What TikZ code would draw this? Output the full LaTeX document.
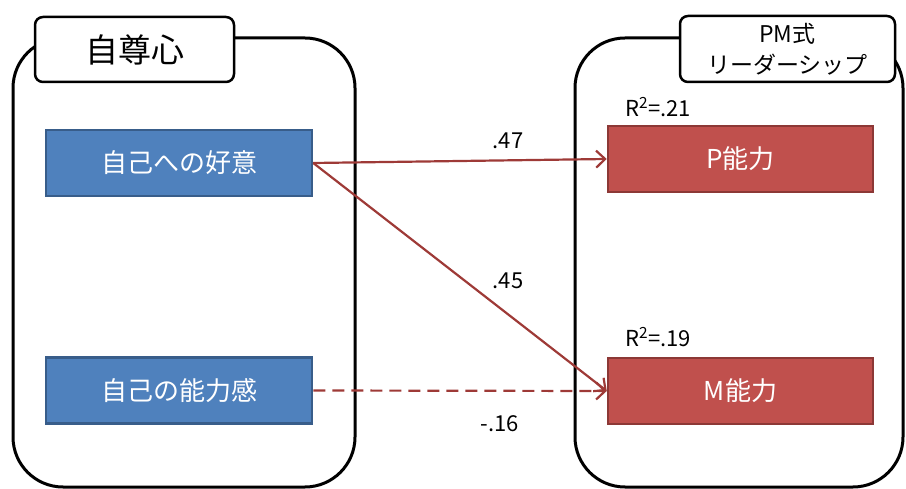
\documentclass[tikz,border=0pt]{standalone}
\usepackage{fontspec}
\setmainfont{Noto Sans CJK JP}
\usetikzlibrary{arrows.meta}
\definecolor{bluefill}{RGB}{79,129,189}
\definecolor{blueedge}{RGB}{56,93,138}
\definecolor{redfill}{RGB}{192,80,77}
\definecolor{rededge}{RGB}{140,56,54}
\definecolor{arrowred}{RGB}{158,58,55}
\tikzset{
  frame/.style={draw=black, line width=3pt, rounded corners=50pt, inner sep=0pt},
  titlebox/.style={draw=black, fill=white, line width=2.5pt, rounded corners=8pt, inner sep=0pt, align=center},
  bluebox/.style={draw=blueedge, fill=bluefill, line width=2.5pt, minimum width=266pt, minimum height=66pt, inner sep=0pt, text=white, font=\fontsize{26}{30}\selectfont},
  redbox/.style={draw=rededge, fill=redfill, line width=2.5pt, minimum width=265pt, minimum height=66pt, inner sep=0pt, text=white, font=\fontsize{26}{30}\selectfont},
  path/.style={draw=arrowred, line width=2.2pt, -{Straight Barb[length=9pt,width=17pt,line width=2.2pt]}},
  coef/.style={font=\fontsize{22}{26}\selectfont, inner sep=0pt},
}
\begin{document}
\begin{tikzpicture}[x=1pt,y=-1pt]
\useasboundingbox (0,0) rectangle (906,489);
% frames
\node[frame, minimum width=342pt, minimum height=449pt] (lframe) at (184,262.5) {};
\node[frame, minimum width=328pt, minimum height=449pt] (rframe) at (739,262.5) {};
% titles
\node[titlebox, minimum width=199pt, minimum height=65pt, font=\fontsize{33}{36}\selectfont] (ltitle) at (134.5,49.5) {自尊心};
\node[titlebox, minimum width=215pt, minimum height=66pt, font=\fontsize{23}{31}\selectfont] (rtitle) at (787.5,49) {PM式\\リーダーシップ};
% boxes
\node[bluebox] (like) at (179,163) {自己への好意};
\node[bluebox] (comp) at (179,390.5) {自己の能力感};
\node[redbox] (pab) at (740.5,159) {P能力};
\node[redbox] (mab) at (740.5,391) {M能力};
% R2
\node[coef] (r1) at (658,107) {R\textsuperscript{2}=.21};
\node[coef] (r2) at (658,337) {R\textsuperscript{2}=.19};
% paths
\draw[path] (like.east) -- (pab.west);
\draw[path] (like.east) -- (mab.west);
\draw[path, dash pattern=on 12pt off 7pt] (comp.east) -- (mab.west);
% coefficients
\node[coef] (c1) at (508,141) {.47};
\node[coef] (c2) at (508,281) {.45};
\node[coef] (c3) at (500,424) {-.16};
\end{tikzpicture}
\end{document}
